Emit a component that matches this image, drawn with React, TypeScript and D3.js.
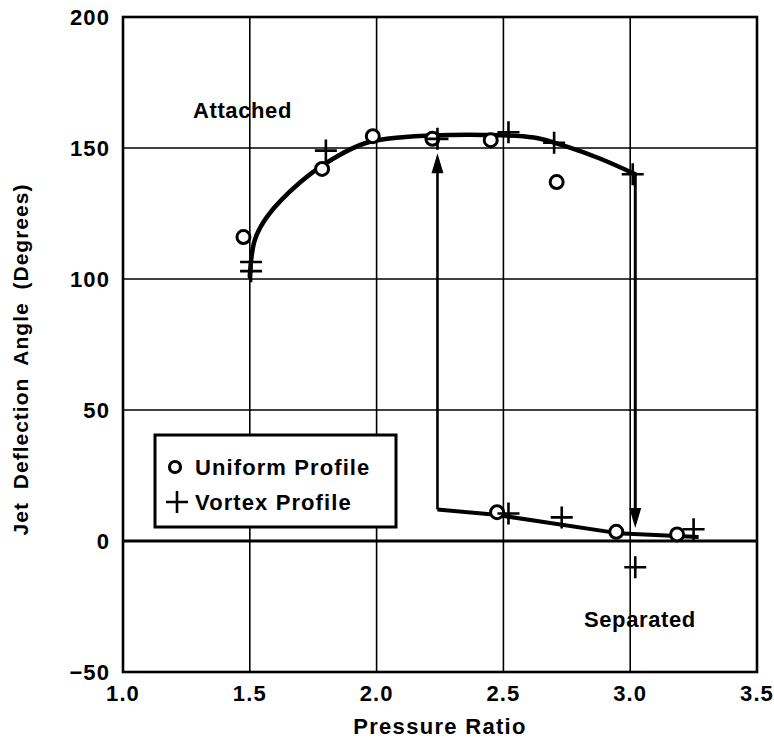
import React from "react";
import * as d3 from "d3";

// Measured jet deflection angles
const uniformX = [1.475, 1.785, 1.985, 2.22, 2.45, 2.71, 2.475, 2.945, 3.185];
const uniformY = [116, 142, 154.5, 153.5, 153, 137, 11, 3.5, 2.5];
const vortexX = [1.505, 1.505, 1.8, 2.24, 2.52, 2.7, 3.01, 2.52, 2.73, 3.02, 3.25];
const vortexY = [106.5, 103, 149, 153.5, 156, 152, 140, 10.5, 9, -10, 4.5];

// Faired curve for the attached branch
const attachedX = [1.5, 1.52, 1.57, 1.7, 1.83, 1.96, 2.09, 2.42, 2.62, 2.75, 2.88, 3.02];
const attachedY = [101, 115, 124, 137, 146, 152, 154, 155, 154, 150.5, 146, 140];

// Faired curve for the separated branch
const separatedX = [2.24, 2.47, 2.95, 3.27];
const separatedY = [12, 10, 3, 1.5];

// Hysteresis transitions: [x, from, to]
const jumpUp = [2.24, 12, 148];
const jumpDown = [3.02, 140, 5];

const xTicks = [1.0, 1.5, 2.0, 2.5, 3.0, 3.5];
const yTicks = [-50, 0, 50, 100, 150, 200];

const font = "'Liberation Sans', Arial, sans-serif";
const ls = 1.1;

export default function App() {
  const W = 774;
  const H = 742;
  const left = 123;
  const right = 757;
  const top = 17;
  const bottom = 672;

  const x = d3.scaleLinear().domain([1.0, 3.5]).range([left, right]);
  const y = d3.scaleLinear().domain([-50, 200]).range([bottom, top]);

  const curve = d3
    .line<[number, number]>()
    .x((d) => x(d[0]))
    .y((d) => y(d[1]))
    .curve(d3.curveCatmullRom.alpha(0.5));
  const straight = d3
    .line<[number, number]>()
    .x((d) => x(d[0]))
    .y((d) => y(d[1]));

  const attached = attachedX.map((v, i) => [v, attachedY[i]] as [number, number]);
  const separated = separatedX.map((v, i) => [v, separatedY[i]] as [number, number]);

  const arrowHead = (px: number, tipY: number, dir: number) => {
    const h = 20;
    const w = 6;
    const ty = y(tipY);
    const bx = x(px);
    return `M${bx},${ty} L${bx - w},${ty - dir * h} L${bx + w},${ty - dir * h} Z`;
  };

  return (
    <svg width={W} height={H} style={{ display: "block", position: "absolute", left: 0, top: 0 }}>
      <rect width={W} height={H} fill="#fff" />
      {/* grid */}
      {xTicks.slice(1, -1).map((t) => (
        <line key={"gx" + t} x1={x(t)} x2={x(t)} y1={top} y2={bottom} stroke="#000" strokeWidth={1.6} />
      ))}
      {yTicks.slice(1, -1).map((t) => (
        <line
          key={"gy" + t}
          x1={left}
          x2={right}
          y1={y(t)}
          y2={y(t)}
          stroke="#000"
          strokeWidth={t === 0 ? 3 : 1.6}
        />
      ))}
      <rect x={left} y={top} width={right - left} height={bottom - top} fill="none" stroke="#000" strokeWidth={2.6} />

      {/* tick labels */}
      {yTicks.map((t) => (
        <text
          key={"ly" + t}
          x={left - 13}
          y={y(t)}
          dy="0.35em"
          textAnchor="end"
          fontFamily={font}
          fontWeight="bold"
          fontSize={22}
          letterSpacing={ls}
        >
          {t < 0 ? "\u2212" + Math.abs(t) : t}
        </text>
      ))}
      {xTicks.map((t) => (
        <text
          key={"lx" + t}
          x={x(t)}
          y={bottom + 29}
          textAnchor="middle"
          fontFamily={font}
          fontWeight="bold"
          fontSize={22}
          letterSpacing={ls}
        >
          {d3.format(".1f")(t)}
        </text>
      ))}
      <text
        x={(left + right) / 2}
        y={bottom + 62}
        textAnchor="middle"
        fontFamily={font}
        fontWeight="bold"
        fontSize={22}
        letterSpacing={1.3}
      >
        Pressure Ratio
      </text>
      <text
        transform={`translate(28,${(top + bottom) / 2 + 15}) rotate(-90)`}
        textAnchor="middle"
        fontFamily={font}
        fontWeight="bold"
        fontSize={21}
        letterSpacing={1}
        wordSpacing={6}
      >
        Jet Deflection Angle (Degrees)
      </text>

      {/* fitted curves */}
      <path d={curve(attached) ?? ""} fill="none" stroke="#000" strokeWidth={4.5} strokeLinecap="round" />
      <path d={straight(separated) ?? ""} fill="none" stroke="#000" strokeWidth={4} strokeLinejoin="round" />
      <line x1={x(jumpUp[0])} x2={x(jumpUp[0])} y1={y(jumpUp[1])} y2={y(jumpUp[2]) + 16} stroke="#000" strokeWidth={2.6} />
      <path d={arrowHead(jumpUp[0], jumpUp[2], -1)} fill="#000" />
      <line x1={x(jumpDown[0])} x2={x(jumpDown[0])} y1={y(jumpDown[1])} y2={y(jumpDown[2]) - 16} stroke="#000" strokeWidth={3} />
      <path d={arrowHead(jumpDown[0], jumpDown[2], 1)} fill="#000" />

      {/* markers */}
      {uniformX.map((v, i) => (
        <circle key={"u" + i} cx={x(v)} cy={y(uniformY[i])} r={6.5} fill="#fff" stroke="#000" strokeWidth={3} />
      ))}
      {vortexX.map((v, i) => (
        <path
          key={"v" + i}
          d={`M${x(v) - 11},${y(vortexY[i])} h22 M${x(v)},${y(vortexY[i]) - 11} v22`}
          stroke="#000"
          strokeWidth={2.6}
        />
      ))}

      {/* annotations */}
      <text x={193} y={118} fontFamily={font} fontWeight="bold" fontSize={22} letterSpacing={0.6}>
        Attached
      </text>
      <text x={584} y={627} fontFamily={font} fontWeight="bold" fontSize={22} letterSpacing={0.6}>
        Separated
      </text>

      {/* legend */}
      <g>
        <rect x={155} y={435} width={241} height={92} fill="#fff" stroke="#000" strokeWidth={3} />
        <circle cx={175} cy={467} r={5.5} fill="#fff" stroke="#000" strokeWidth={3.2} />
        <text x={195} y={475} fontFamily={font} fontWeight="bold" fontSize={22} letterSpacing={ls}>
          Uniform Profile
        </text>
        <path d={`M${166},${502} h22 M${177},${491} v22`} stroke="#000" strokeWidth={2.6} />
        <text x={195} y={510} fontFamily={font} fontWeight="bold" fontSize={22} letterSpacing={ls}>
          Vortex Profile
        </text>
      </g>
    </svg>
  );
}
